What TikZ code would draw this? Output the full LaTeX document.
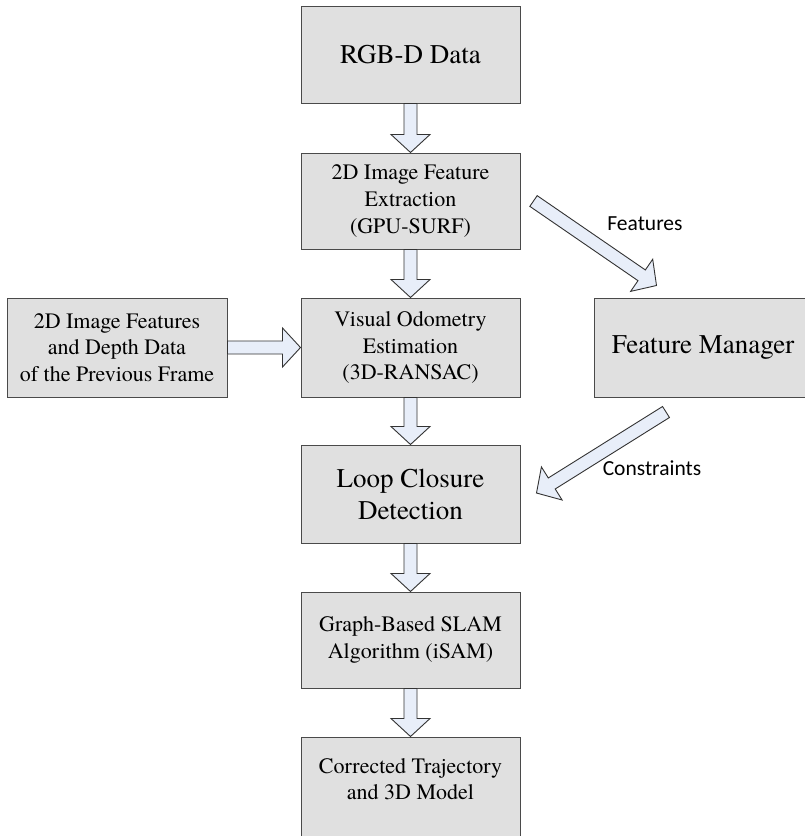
\documentclass[tikz,border=0pt]{standalone}
\usepackage{fontspec}
\setmainfont{TeX Gyre Termes}
\newfontfamily\lblfont{Carlito}
\usetikzlibrary{calc}

\definecolor{boxfill}{HTML}{E0E0E0}
\definecolor{boxline}{HTML}{4A4A4A}
\definecolor{arrfill}{HTML}{E8EEF9}
\definecolor{arrline}{HTML}{333333}

\tikzset{
  box/.style={draw=boxline, fill=boxfill, line width=1pt, inner sep=0pt, align=center,
    minimum width=219pt, minimum height=96pt, font=\fontsize{22}{26.7}\selectfont},
  big/.style={font=\fontsize{27}{32}\selectfont},
  lbl/.style={font=\lblfont\fontsize{21.5}{26}\selectfont, inner sep=0pt},
  ar/.style={shift={(\p1)}, rotate=\n1},
  fat/.style={draw=arrline, fill=arrfill, line width=0.9pt, line join=miter, to path={
    let \p1=(\tikztostart), \p2=(\tikztotarget),
        \n1={atan2(\y2-\y1,\x2-\x1)}, \n2={veclen(\x2-\x1,\y2-\y1)} in
    ([ar]0,-6.5) -- ([ar]\n2-18pt,-6.5) -- ([ar]\n2-18pt,-19.5) -- ([ar]\n2,0)
    -- ([ar]\n2-18pt,19.5) -- ([ar]\n2-18pt,6.5) -- ([ar]0,6.5) -- cycle}}
}

\begin{document}
\begin{tikzpicture}[x=1pt, y=1pt]
\path[use as bounding box, fill=white] (0,0) rectangle (805,-836);

% main column
\node[box, big, minimum height=97pt] (rgb) at (410.5,-54.5) {RGB-D Data};
\node[box] (sift) at (410.5,-201) {2D Image Feature\\Extraction\\(GPU-SURF)};
\node[box, minimum height=99pt] (vo) at (410.5,-347.5) {Visual Odometry\\Estimation\\(3D-RANSAC)};
\node[box, big, minimum height=98pt] (loop) at (410.5,-494) {Loop Closure\\Detection};
\node[box] (slam) at (410.5,-640) {Graph-Based SLAM\\Algorithm (iSAM)};
\node[box, minimum height=104pt, text depth=20pt] (traj) at (410.5,-789) {Corrected Trajectory\\and 3D Model};

% side boxes
\node[box, minimum width=220pt, minimum height=99pt] (prev) at (117,-347.5) {2D Image Features\\and Depth Data\\of the Previous Frame};
\node[box, big, minimum width=218pt, minimum height=99pt] (fm) at (703,-347.5) {Feature Manager};

\coordinate (ftail) at ($(sift.north east)+(13,-48.5)$);
\coordinate (fhead) at ($(fm.north west)+(63,12)$);
\coordinate (ctail) at ($(fm.south west)+(72.5,-14.5)$);
\coordinate (ctip) at ($(loop.east)+(16,1)$);

\draw[fat] (rgb.south) to (sift.north);
\draw[fat] (sift.south) to (vo.north);
\draw[fat] (prev.east) to (vo.west);
\draw[fat] (vo.south) to (loop.north);
\draw[fat] (loop.south) to (slam.north);
\draw[fat] (slam.south) to (traj.north);
\draw[fat] (ftail) to (fhead);
\draw[fat] (ctail) to (ctip);

\node[lbl] (flbl) at (645,-224) {Features};
\node[lbl] (clbl) at (652,-468) {Constraints};
\end{tikzpicture}
\end{document}
